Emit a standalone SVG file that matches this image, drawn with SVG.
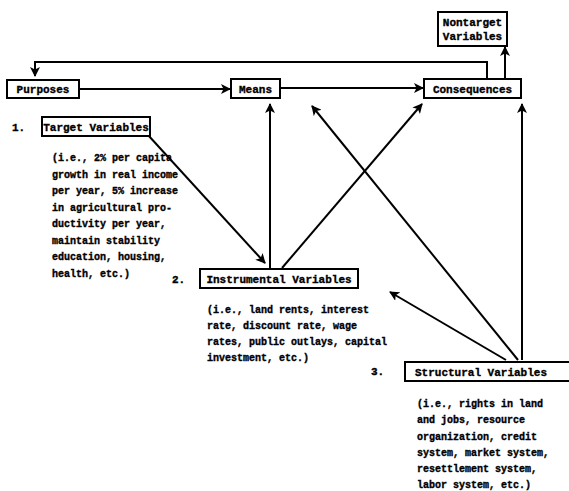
<svg xmlns="http://www.w3.org/2000/svg" width="569" height="491" viewBox="0 0 569 491">
<defs>
<marker id="ah" viewBox="0 0 10 10" refX="9" refY="5" markerWidth="5" markerHeight="5" orient="auto" markerUnits="strokeWidth">
<path d="M0,0 L10,5 L0,10 L2.5,5 Z" fill="#000"/>
</marker>
</defs>
<style>
.bx{fill:#fff;stroke:#000;stroke-width:2}
.t{font-family:"Liberation Mono",monospace;font-weight:bold;font-size:11px;fill:#000;stroke:#000;stroke-width:0.35}
.d{font-family:"Liberation Mono",monospace;font-weight:bold;font-size:10px;fill:#000;stroke:#000;stroke-width:0.35}
.c{fill:none;stroke:#000;stroke-width:2}
.a{fill:none;stroke:#000;stroke-width:2;marker-end:url(#ah)}
</style>
<rect width="569" height="491" fill="#fff"/>
<g id="connectors">
<polyline class="a" points="487,79 487,62 35,62 35,76"/>
<line class="a" x1="505" y1="79" x2="505" y2="47"/>
<line class="a" x1="79" y1="89" x2="230" y2="89"/>
<line class="a" x1="280" y1="88" x2="423" y2="88"/>
<line class="a" x1="148" y1="135" x2="265" y2="263"/>
<line class="a" x1="270" y1="268" x2="270" y2="104"/>
<line class="a" x1="282" y1="268" x2="422" y2="104"/>
<line class="a" x1="518" y1="360" x2="312" y2="106"/>
<line class="a" x1="522" y1="360" x2="522" y2="104"/>
<line class="a" x1="506" y1="360" x2="390" y2="292"/>
</g>
<g id="nontarget">
<rect class="bx" x="438" y="12" width="69" height="34"/>
<text class="t" x="472.5" y="26" text-anchor="middle">Nontarget</text>
<text class="t" x="472.5" y="40" text-anchor="middle">Variables</text>
</g>
<g id="purposes">
<rect class="bx" x="7" y="80" width="72" height="18"/>
<text class="t" x="43" y="93" text-anchor="middle">Purposes</text>
</g>
<g id="means">
<rect class="bx" x="231" y="79" width="49" height="19"/>
<text class="t" x="255.5" y="92.5" text-anchor="middle">Means</text>
</g>
<g id="consequences">
<rect class="bx" x="424" y="79" width="97" height="19"/>
<text class="t" x="472.5" y="92.5" text-anchor="middle">Consequences</text>
</g>
<g id="target">
<text class="t" x="12" y="131">1.</text>
<rect class="bx" x="42" y="117" width="108" height="19"/>
<text class="t" x="96" y="130.5" text-anchor="middle">Target Variables</text>
<text class="d" x="52" y="161">(i.e., 2% per capita</text>
<text class="d" x="52" y="177.5">growth in real income</text>
<text class="d" x="52" y="194">per year, 5% increase</text>
<text class="d" x="52" y="210.5">in agricultural pro-</text>
<text class="d" x="52" y="227">ductivity per year,</text>
<text class="d" x="52" y="243.5">maintain stability</text>
<text class="d" x="52" y="260">education, housing,</text>
<text class="d" x="52" y="276.5">health, etc.)</text>
</g>
<g id="instrumental">
<text class="t" x="172" y="283">2.</text>
<rect class="bx" x="200" y="269" width="158" height="19"/>
<text class="t" x="279" y="282.5" text-anchor="middle">Instrumental Variables</text>
<text class="d" x="207" y="313">(i.e., land rents, interest</text>
<text class="d" x="207" y="329">rate, discount rate, wage</text>
<text class="d" x="207" y="345">rates, public outlays, capital</text>
<text class="d" x="207" y="361">investment, etc.)</text>
</g>
<g id="structural">
<text class="t" x="371" y="375">3.</text>
<rect class="bx" x="405" y="362" width="170" height="19"/>
<text class="t" x="415" y="375.5">Structural Variables</text>
<text class="d" x="417" y="407">(i.e., rights in land</text>
<text class="d" x="417" y="423">and jobs, resource</text>
<text class="d" x="417" y="439.5">organization, credit</text>
<text class="d" x="417" y="456">system, market system,</text>
<text class="d" x="417" y="472">resettlement system,</text>
<text class="d" x="417" y="488">labor system, etc.)</text>
</g>
</svg>
